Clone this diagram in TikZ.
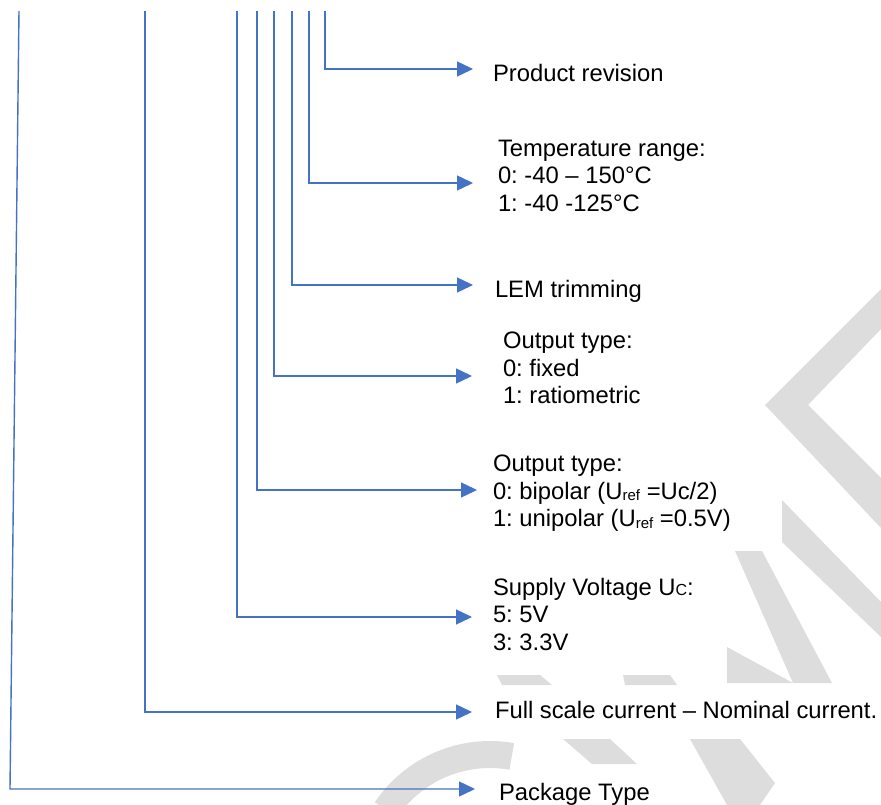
\documentclass[tikz,border=0pt]{standalone}
\usepackage{fontspec}
\setmainfont{Liberation Sans}
\usetikzlibrary{arrows.meta}
\definecolor{lemblue}{RGB}{68,114,196}
\definecolor{wmgray}{RGB}{221,221,221}
\newcommand\subsm[1]{\raisebox{-1.5pt}{\fontsize{15}{15}\selectfont #1}}
\newcommand\capsm[1]{{\fontsize{16}{16}\selectfont #1}}
\frenchspacing
\begin{document}
\begin{tikzpicture}[x=1pt,y=-1pt,
  conn/.style={draw=lemblue, line width=1.4pt, -{Triangle[length=16pt,width=15pt]}},
  lbl/.style={anchor=north west, inner sep=0pt, outer sep=0pt, align=left,
              font=\fontsize{23.8}{27.5}\selectfont},
  wm/.style={fill=wmgray}]
\useasboundingbox (0,0) rectangle (881,805);
% watermark
\fill[wm] (881,289) -- (765,405) -- (881,528) -- (881,478) -- (808,405) -- (881,329) -- cycle;
\fill[wm] (782,500) -- (881,602) -- (881,637) -- (782,542) -- cycle;
\fill[wm] (735,551) -- (762,551) -- (832,683) -- (793,683) -- cycle;
\fill[wm] (727,647) -- (793,683) -- (727,683) -- cycle;
\fill[wm] (497,675) -- (540,675) -- (552,685) -- (502,685) -- cycle;
\fill[wm] (623,675) -- (670,675) -- (677,685) -- (625,685) -- cycle;
\fill[wm] (563,739) -- (610,739) -- (637,764) -- (592,764) -- cycle;
\fill[wm] (690,739) -- (740,739) -- (775,783) -- (760,805) -- (727,805) -- cycle;
\fill[wm] (490,880) ++(214:139) arc[start angle=214, end angle=280, radius=139]
  -- ++(100:27) arc[start angle=280, end angle=214, radius=112] -- cycle;
% labels
\node[lbl] (nA) at (493,64) {Product revision};
\node[lbl] (nB) at (498,140) {Temperature range:\\0: -40 – 150°C\\1: -40 -125°C};
\node[lbl] (nC) at (495,280) {LEM trimming};
\node[lbl] (nD) at (503,332) {Output type:\\0: fixed\\1: ratiometric};
\node[lbl] (nE) at (493,455) {Output type:\\0: bipolar (U\subsm{ref} =Uc/2)\\1: unipolar (U\subsm{ref} =0.5V)};
\node[lbl] (nF) at (493,578) {Supply Voltage U\capsm{C}:\\5: 5V\\3: 3.3V};
\node[lbl] (nG) at (495,701) {Full scale current – Nominal current.};
\node[lbl] (nH) at (499,783) {Package Type};
% line origins
\coordinate (tA) at (325,11);
\coordinate (tB) at (309,11);
\coordinate (tC) at (292,11);
\coordinate (tD) at (274,11);
\coordinate (tE) at (257,11);
\coordinate (tF) at (237,11);
\coordinate (tG) at (145,11);
\coordinate (tH) at (19,11);
\coordinate (bH) at (10,789);
% connectors
\draw[conn] (tA) |- ([shift={(-20,5)}]nA.north west);
\draw[conn] (tB) |- ([shift={(-25,43)}]nB.north west);
\draw[conn] (tC) |- ([shift={(-22,5)}]nC.north west);
\draw[conn] (tD) |- ([shift={(-31,44)}]nD.north west);
\draw[conn] (tE) |- ([shift={(-16,35)}]nE.north west);
\draw[conn] (tF) |- ([shift={(-21,39)}]nF.north west);
\draw[conn] (tG) |- ([shift={(-23,11)}]nG.north west);
\draw[conn] (tH) -- (bH) -- ([shift={(-24,6)}]nH.north west);
\end{tikzpicture}
\end{document}
